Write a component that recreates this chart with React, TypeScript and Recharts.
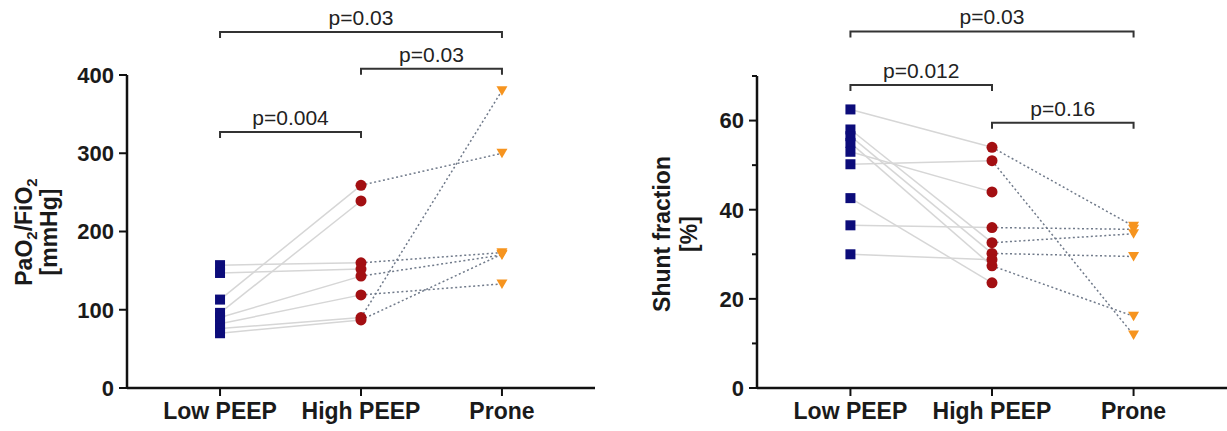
import React from "react";
import { ComposedChart, Line, Scatter, XAxis, YAxis, ReferenceLine } from "recharts";

const CATEGORIES = ["Low PEEP", "High PEEP", "Prone"];

// PaO2/FiO2 [mmHg], one entry per patient (null = not proned)
const PF_LOW = [157, 147, 113, 96, 90, 82, 76, 70];
const PF_HIGH = [160, 152, 259, 239, 143, 119, 90, 87];
const PF_PRONE: (number | null)[] = [173, null, 300, null, 170, 133, 380, 171];

// Shunt fraction [%], one entry per patient
const SHUNT_LOW = [62.5, 58, 56.5, 55, 53, 50.2, 42.6, 36.5, 30];
const SHUNT_HIGH = [54, 32.6, 30.2, 27.4, 44, 51, 23.6, 36, 28.8];
const SHUNT_PRONE: (number | null)[] = [36.3, 34.6, 29.5, 16.1, null, 11.9, null, 35.6, null];

const PF_TICKS = [0, 100, 200, 300, 400];
const SHUNT_TICKS = [0, 10, 20, 30, 40, 50, 60, 70];
const SHUNT_LABELLED = [0, 20, 40, 60];

// significance brackets: [from, to, text]
const PF_BRACKETS: [number, number, string][] = [
  [0, 2, "p=0.03"],
  [1, 2, "p=0.03"],
  [0, 1, "p=0.004"],
];
const PF_BRACKET_LEVELS = [455, 408, 327];

const SHUNT_BRACKETS: [number, number, string][] = [
  [0, 2, "p=0.03"],
  [0, 1, "p=0.012"],
  [1, 2, "p=0.16"],
];
const SHUNT_BRACKET_LEVELS = [80, 68, 59.5];

const NAVY = "#0c0c7a";
const RED = "#a30f12";
const ORANGE = "#f6941f";
const PAIR_LINE = "#d6d6d6";
const PRONE_LINE = "#707a8a";
const INK = "#111";
const FONT = "'Liberation Sans', Arial, sans-serif";
const TICK = 8;
const GAP = 5;

type Pt = { x: number; y: number };

const column = (col: number, values: (number | null)[]): Pt[] =>
  values.filter((v): v is number => v != null).map((v) => ({ x: col, y: v }));

const pairs = (a: (number | null)[], b: (number | null)[], ca: number, cb: number): Pt[][] =>
  a
    .map((v, i) => [v, b[i]] as const)
    .filter(([u, w]) => u != null && w != null)
    .map(([u, w]) => [
      { x: ca, y: u as number },
      { x: cb, y: w as number },
    ]);

const Square = (p: any) => <rect x={p.cx - 5} y={p.cy - 5} width={10} height={10} fill={NAVY} />;
const Dot = (p: any) => <circle cx={p.cx} cy={p.cy} r={5.5} fill={RED} />;
const DownTriangle = (p: any) => (
  <path d={`M${p.cx - 5.5},${p.cy - 4.5}L${p.cx + 5.5},${p.cy - 4.5}L${p.cx},${p.cy + 5}Z`} fill={ORANGE} />
);

const bracketShape = (text: string) => (p: any) => {
  const { x1, y1, x2 } = p;
  return (
    <g>
      <path d={`M${x1},${y1 + 6}V${y1}H${x2}V${y1 + 6}`} fill="none" stroke="#333" strokeWidth={2} />
      <text x={(x1 + x2) / 2} y={y1 - 7} textAnchor="middle" fontSize={21} fontFamily={FONT} fill="#222">
        {text}
      </text>
    </g>
  );
};

const makeYTick = (labelled: number[]) => (p: any) => {
  const { x, y, payload } = p;
  const axisX = x + TICK + GAP;
  const major = labelled.includes(payload.value);
  return (
    <g>
      <line x1={axisX - (major ? TICK : 5)} x2={axisX} y1={y} y2={y} stroke={INK} strokeWidth={2} />
      {major && (
        <text x={x} y={y} dy="0.36em" textAnchor="end" fontSize={22} fontWeight="bold" fontFamily={FONT} fill="#1a1a1a">
          {payload.value}
        </text>
      )}
    </g>
  );
};

const XTick = (p: any) => (
  <text x={p.x} y={p.y} dy={21} textAnchor="middle" fontSize={23} fontWeight="bold" fontFamily={FONT} fill="#1a1a1a">
    {CATEGORIES[p.payload.value]}
  </text>
);

const titleStyle = { fontSize: 23, fontWeight: "bold", fontFamily: FONT, fill: "#1a1a1a" } as const;

const PfTitle = () => (
  <g>
    <text transform="translate(32,232) rotate(-90)" textAnchor="middle" {...titleStyle}>
      PaO<tspan dy={5} fontSize={15}>2</tspan>
      <tspan dy={-5}>/FiO</tspan>
      <tspan dy={5} fontSize={15}>2</tspan>
    </text>
    <text transform="translate(57,232) rotate(-90)" textAnchor="middle" {...titleStyle}>
      [mmHg]
    </text>
  </g>
);

const ShuntTitle = () => (
  <g>
    <text transform="translate(50,234) rotate(-90)" textAnchor="middle" {...titleStyle}>
      Shunt fraction
    </text>
    <text transform="translate(77,234) rotate(-90)" textAnchor="middle" {...titleStyle}>
      [%]
    </text>
  </g>
);

function PairedPanel({
  width,
  top,
  right,
  yWidth,
  domain,
  ticks,
  labelled,
  low,
  high,
  prone,
  brackets,
  levels,
  Title,
}: {
  width: number;
  top: number;
  right: number;
  yWidth: number;
  domain: [number, number];
  ticks: number[];
  labelled: number[];
  low: number[];
  high: number[];
  prone: (number | null)[];
  brackets: [number, number, string][];
  levels: number[];
  Title: () => React.ReactElement;
}) {
  return (
    <ComposedChart width={width} height={431} margin={{ top, right, bottom: 0, left: 0 }}>
      <XAxis
        type="number"
        dataKey="x"
        domain={[-0.66, 2.66]}
        ticks={[0, 1, 2]}
        height={43}
        tickSize={TICK}
        tickMargin={2}
        tick={XTick}
        axisLine={{ stroke: INK, strokeWidth: 2.5 }}
        tickLine={{ stroke: INK, strokeWidth: 2 }}
        allowDataOverflow
      />
      <YAxis
        type="number"
        domain={domain}
        ticks={ticks}
        width={yWidth}
        tickSize={TICK}
        tickMargin={GAP}
        tickLine={false}
        tick={makeYTick(labelled)}
        axisLine={{ stroke: INK, strokeWidth: 2.5 }}
        label={{ content: () => <Title /> }}
        allowDataOverflow
      />
      {pairs(low, high, 0, 1).map((seg, i) => (
        <Line
          key={`lh${i}`}
          data={seg}
          dataKey="y"
          stroke={PAIR_LINE}
          strokeWidth={1.5}
          dot={false}
          activeDot={false}
          isAnimationActive={false}
        />
      ))}
      {pairs(high, prone, 1, 2).map((seg, i) => (
        <Line
          key={`hp${i}`}
          data={seg}
          dataKey="y"
          stroke={PRONE_LINE}
          strokeWidth={1.5}
          strokeDasharray="2 2.5"
          dot={false}
          activeDot={false}
          isAnimationActive={false}
        />
      ))}
      <Scatter data={column(0, low)} dataKey="y" shape={Square} isAnimationActive={false} />
      <Scatter data={column(1, high)} dataKey="y" shape={Dot} isAnimationActive={false} />
      <Scatter data={column(2, prone)} dataKey="y" shape={DownTriangle} isAnimationActive={false} />
      {brackets.map(([a, b, text], i) => (
        <ReferenceLine
          key={`br${i}`}
          segment={[
            { x: a, y: levels[i] },
            { x: b, y: levels[i] },
          ]}
          ifOverflow="visible"
          shape={bracketShape(text)}
        />
      ))}
    </ComposedChart>
  );
}

export default function App() {
  return (
    <div style={{ position: "absolute", left: 0, top: 0, width: 1227, height: 431, background: "#fff" }}>
      <div style={{ position: "absolute", left: 0, top: 0 }}>
        <PairedPanel
          width={620}
          top={75}
          right={25}
          yWidth={127}
          domain={[0, 400]}
          ticks={PF_TICKS}
          labelled={PF_TICKS}
          low={PF_LOW}
          high={PF_HIGH}
          prone={PF_PRONE}
          brackets={PF_BRACKETS}
          levels={PF_BRACKET_LEVELS}
          Title={PfTitle}
        />
      </div>
      <div style={{ position: "absolute", left: 620, top: 0 }}>
        <PairedPanel
          width={607}
          top={76}
          right={0}
          yWidth={137}
          domain={[0, 70]}
          ticks={SHUNT_TICKS}
          labelled={SHUNT_LABELLED}
          low={SHUNT_LOW}
          high={SHUNT_HIGH}
          prone={SHUNT_PRONE}
          brackets={SHUNT_BRACKETS}
          levels={SHUNT_BRACKET_LEVELS}
          Title={ShuntTitle}
        />
      </div>
    </div>
  );
}
